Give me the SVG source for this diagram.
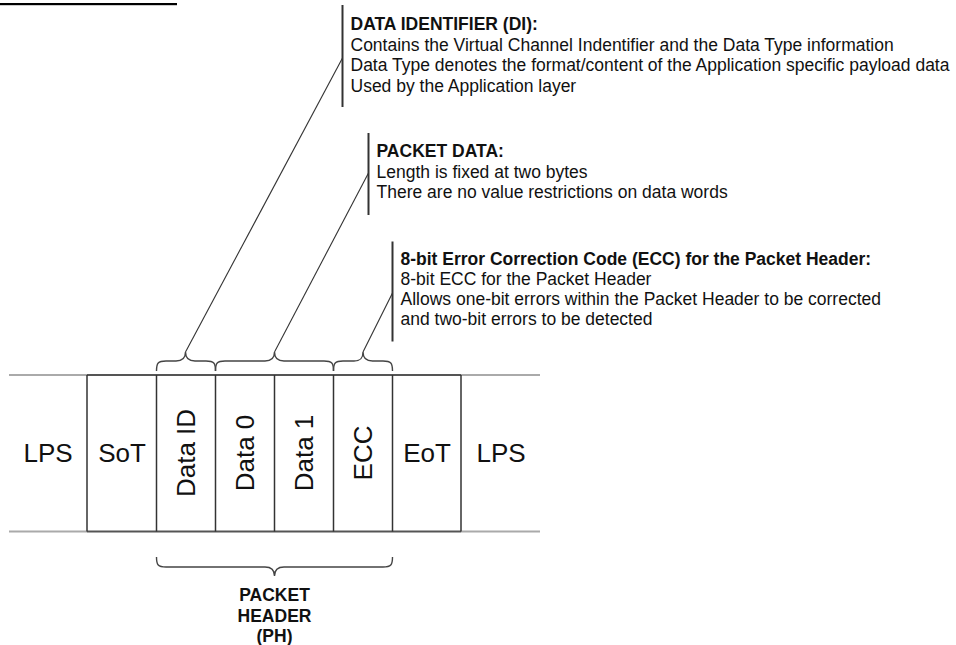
<svg xmlns="http://www.w3.org/2000/svg" width="956" height="645" viewBox="0 0 956 645">
<style>
.cell{font-family:"Liberation Sans",Arial,sans-serif;font-size:26px;fill:#111;text-anchor:middle}
.hd{font-family:"Liberation Sans",Arial,sans-serif;font-size:17.5px;font-weight:bold;fill:#111}
.bd{font-family:"Liberation Sans",Arial,sans-serif;font-size:17.5px;fill:#111}
.vl{stroke:#333;stroke-width:1.5;fill:none}
.bar{stroke:#333;stroke-width:2;fill:none}
.lead{stroke:#333;stroke-width:1.1;fill:none}
.brace{stroke:#444;stroke-width:1.4;fill:none}
</style>
<rect width="956" height="645" fill="#fff"/>
<rect x="0" y="3" width="177" height="2.2" fill="#000"/>
<g id="frame">
<line x1="9" y1="375" x2="87" y2="375" stroke="#aaa" stroke-width="2"/>
<line x1="461" y1="375" x2="540" y2="375" stroke="#aaa" stroke-width="2"/>
<line x1="9" y1="531.5" x2="87" y2="531.5" stroke="#aaa" stroke-width="2"/>
<line x1="461" y1="531.5" x2="540" y2="531.5" stroke="#aaa" stroke-width="2"/>
<line x1="87" y1="375" x2="461" y2="375" stroke="#555" stroke-width="2"/>
<line x1="87" y1="531.5" x2="461" y2="531.5" stroke="#555" stroke-width="2"/>
</g>
<g id="lps-left"><text class="cell" x="48" y="462">LPS</text></g>
<g id="sot"><line class="vl" x1="87" y1="375" x2="87" y2="531.5"/><text class="cell" x="122" y="462">SoT</text></g>
<g id="data-id"><line class="vl" x1="156.5" y1="375" x2="156.5" y2="531.5"/><text class="cell" transform="translate(186,453) rotate(-90)" x="0" y="9.3">Data ID</text></g>
<g id="data0"><line class="vl" x1="215.5" y1="375" x2="215.5" y2="531.5"/><text class="cell" transform="translate(245,453) rotate(-90)" x="0" y="9.3">Data 0</text></g>
<g id="data1"><line class="vl" x1="274.5" y1="375" x2="274.5" y2="531.5"/><text class="cell" transform="translate(304,453) rotate(-90)" x="0" y="9.3">Data 1</text></g>
<g id="ecc"><line class="vl" x1="333.5" y1="375" x2="333.5" y2="531.5"/><text class="cell" transform="translate(363,453) rotate(-90)" x="0" y="9.3">ECC</text></g>
<g id="eot"><line class="vl" x1="392.5" y1="375" x2="392.5" y2="531.5"/><text class="cell" x="427" y="462">EoT</text></g>
<g id="lps-right"><line class="vl" x1="461" y1="375" x2="461" y2="531.5"/><text class="cell" x="501" y="462">LPS</text></g>
<g id="braces">
<path class="brace" d="M156.5,371 C156.5,363 158,361 166,361 L176,361 C183,361 185.5,358 185.5,352 C185.5,358 188,361 195,361 L206,361 C214,361 215.5,363 215.5,371"/>
<path class="brace" d="M215.5,371 C215.5,363 217,361 225,361 L265,361 C272,361 274.5,358 274.5,352 C274.5,358 277,361 284,361 L324,361 C332,361 333.5,363 333.5,371"/>
<path class="brace" d="M333.5,371 C333.5,363 335,361 343,361 L354,361 C361,361 363,358 363,352 C363,358 365.5,361 372.5,361 L383,361 C391,361 392.5,363 392.5,371"/>
<path class="brace" d="M156.5,557 C156.5,565 158,567 166,567 L265,567 C272,567 274.5,570 274.5,576 C274.5,570 277,567 284,567 L383,567 C391,567 392.5,565 392.5,557"/>
</g>
<g id="connectors">
<line class="lead" x1="185.5" y1="352" x2="342.5" y2="58"/>
<line class="lead" x1="274.5" y1="352" x2="368.5" y2="173"/>
<line class="lead" x1="363" y1="352" x2="392.5" y2="293"/>
</g>
<g id="callout-di">
<line class="bar" x1="342.5" y1="5" x2="342.5" y2="107"/>
<text class="hd" x="350.5" y="30">DATA IDENTIFIER (DI):</text>
<text class="bd" x="350.5" y="50.5">Contains the Virtual Channel Indentifier and the Data Type information</text>
<text class="bd" x="350.5" y="71">Data Type denotes the format/content of the Application specific payload data</text>
<text class="bd" x="350.5" y="91.5">Used by the Application layer</text>
</g>
<g id="callout-pd">
<line class="bar" x1="368.5" y1="133" x2="368.5" y2="215"/>
<text class="hd" x="376.5" y="157">PACKET DATA:</text>
<text class="bd" x="376.5" y="177.5">Length is fixed at two bytes</text>
<text class="bd" x="376.5" y="198">There are no value restrictions on data words</text>
</g>
<g id="callout-ecc">
<line class="bar" x1="392.5" y1="241.5" x2="392.5" y2="341.5"/>
<text class="hd" x="400.5" y="265">8-bit Error Correction Code (ECC) for the Packet Header:</text>
<text class="bd" x="400.5" y="285">8-bit ECC for the Packet Header</text>
<text class="bd" x="400.5" y="305">Allows one-bit errors within the Packet Header to be corrected</text>
<text class="bd" x="400.5" y="325">and two-bit errors to be detected</text>
</g>
<g id="packet-header">
<text class="hd" x="274.5" y="600.5" text-anchor="middle">PACKET</text>
<text class="hd" x="274.5" y="621.5" text-anchor="middle">HEADER</text>
<text class="hd" x="274.5" y="642" text-anchor="middle">(PH)</text>
</g>
</svg>
